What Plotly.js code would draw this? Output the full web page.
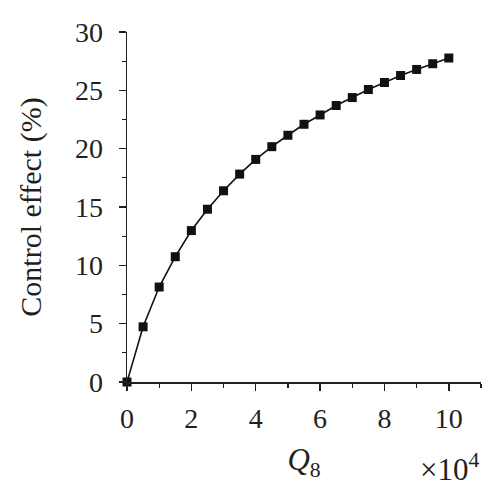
<!DOCTYPE html>
<html>
<head>
<meta charset="utf-8">
<script src="https://cdn.plot.ly/plotly-3.0.1.min.js"></script>
<style>
  html, body { margin: 0; padding: 0; background: #fff; }
  #plot { width: 500px; height: 500px; }
</style>
</head>
<body>
<div id="plot"></div>
<script>
// Q8 in units of 10^4
var q8 = [0, 0.5, 1, 1.5, 2, 2.5, 3, 3.5, 4, 4.5, 5, 5.5, 6, 6.5, 7, 7.5, 8, 8.5, 9, 9.5, 10];
// control effect (%)
var effect = [0, 4.73, 8.14, 10.74, 12.98, 14.81, 16.39, 17.82, 19.08, 20.17, 21.15,
              22.09, 22.89, 23.70, 24.38, 25.07, 25.67, 26.27, 26.79, 27.28, 27.77];

var font = "Liberation Serif";
var ink = "#231f20";

var trace = {x: q8,
             y: effect,
             type: "scatter",
             mode: "lines+markers",
             line: {color: "#111", width: 1.6},
             marker: {symbol: "square", size: 9, color: "#111"},
             cliponaxis: false,
             showlegend: false};

var layout = {
    width: 500,
    height: 500,
    margin: {l: 127, r: 19, t: 32, b: 118},
    paper_bgcolor: "#fff",
    plot_bgcolor: "#fff",
    font: {family: font, size: 28, color: ink},
    xaxis: {
        range: [0, 11],
        tick0: 0,
        dtick: 2,
        ticks: "outside",
        ticklen: 7,
        tickwidth: 1.5,
        tickcolor: ink,
        showline: true,
        linecolor: ink,
        linewidth: 1.5,
        showgrid: false,
        zeroline: false,
        ticklabelstandoff: 4,
        minor: {dtick: 1, ticks: "outside", ticklen: 4, tickwidth: 1.2, tickcolor: ink, showgrid: false},
        tickfont: {family: font, size: 28, color: ink},
        title: {text: "<i>Q</i><sub>8</sub>", font: {family: font, size: 31, color: ink}, standoff: 15}
    },
    yaxis: {
        range: [0, 30],
        tick0: 0,
        dtick: 5,
        ticks: "outside",
        ticklen: 7,
        tickwidth: 1.5,
        tickcolor: ink,
        showline: true,
        linecolor: ink,
        linewidth: 1.5,
        showgrid: false,
        zeroline: false,
        ticklabelstandoff: 10,
        minor: {dtick: 2.5, ticks: "outside", ticklen: 4, tickwidth: 1.2, tickcolor: ink, showgrid: false},
        tickfont: {family: font, size: 28, color: ink},
        title: {text: "Control effect (%)", font: {family: font, size: 30, color: ink}, standoff: 24}
    },
    annotations: [{
        text: "×10<sup>4</sup>",
        xref: "paper", yref: "paper",
        x: 1.0, y: -0.245,
        xanchor: "right", yanchor: "middle",
        showarrow: false,
        font: {family: font, size: 31, color: ink}
    }]
};

Plotly.newPlot("plot", [trace], layout, {displayModeBar: false, staticPlot: true});
</script>
</body>
</html>
